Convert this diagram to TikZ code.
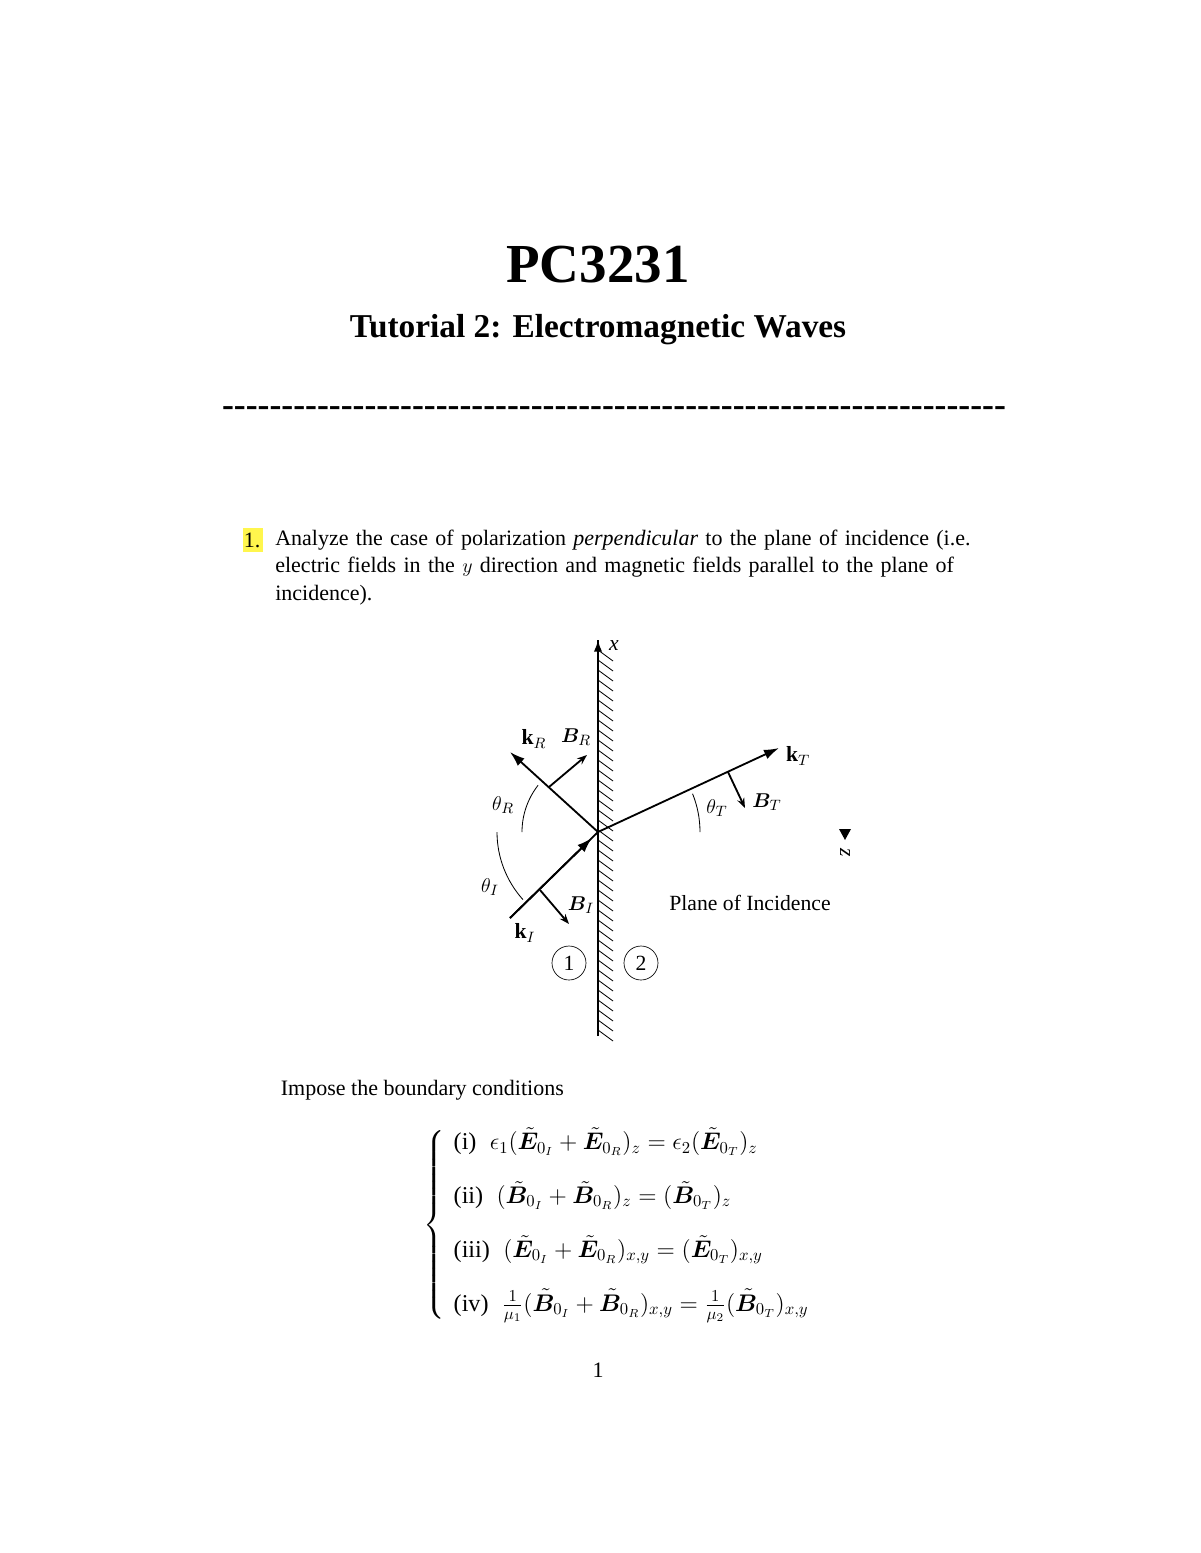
\documentclass[tikz,border=0pt]{standalone}
\usepackage{fontspec}
\setmainfont{Liberation Serif}
\newfontfamily\dashfont{Liberation Serif}[Ligatures=TeXOff]
\usepackage{amsmath,amssymb,bm}
\usetikzlibrary{arrows.meta,patterns,calc}
\begin{document}
\begin{tikzpicture}[x=0.6pt,y=-0.6pt,
  vec/.style={line width=1.1pt,-{Latex[length=9pt,width=6pt]}},
  bvec/.style={line width=1.1pt,-{Stealth[length=6pt,width=4.5pt]}},
  arc/.style={line width=0.5pt},
  lab/.style={font=\fontsize{13}{15}\selectfont},
  body/.style={font=\fontsize{13.2}{16.3}\selectfont}]
\useasboundingbox (0,0) rectangle (1200,1553);
\node (title) at (598,265) {\fontsize{33}{36}\selectfont\bfseries PC3231};
\node (sub) at (598,330) {\fontsize{20}{24}\selectfont\bfseries Tutorial 2: Electromagnetic Waves};
\node (dash) at (614,412) {\dashfont\fontsize{21.4}{24}\selectfont\bfseries ------------------------------------------------------------------};
\fill[yellow!70] (243,528) rectangle (263,552);
\node[body,anchor=north west] (num) at (238,527) {1.};
\node[body,anchor=north west,text width=425pt,align=left,inner sep=0pt] (q) at (275,530)
 {Analyze the case of polarization \emph{perpendicular} to the plane of incidence (i.e. electric fields in the $y$ direction and magnetic fields parallel to the plane of incidence).};
% wall
\coordinate (O) at (598,832);
\coordinate (top) at (598,640);
\coordinate (bot) at (598,1036);
\draw[line width=1pt] (bot) -- (top);
\draw[-{Latex[length=7pt,width=5pt]},line width=1pt] (598,660) -- (top);
\foreach \y in {650,660,...,1030} \draw[line width=0.5pt] (598,\y) -- (613,\y+11);
\node[lab,font=\fontsize{13}{15}\selectfont\itshape] (xl) at (614,646) {x};
% vectors
\coordinate (kIt) at (510,918);
\coordinate (kRt) at (510,752);
\coordinate (kTt) at (779,748);
\draw[vec] (kIt) -- ($(O)!0.07!(kIt)$);
\draw[line width=1.1pt] (kIt) -- (O);
\draw[vec] (O) -- (kRt);
\draw[vec] (O) -- (kTt);
\coordinate (bI1) at (540,890); \coordinate (bI2) at (569,924);
\coordinate (bR1) at (549,787); \coordinate (bR2) at (587,755);
\coordinate (bT1) at (728,772); \coordinate (bT2) at (745,808);
\draw[bvec] (bI1) -- (bI2);
\draw[bvec] (bR1) -- (bR2);
\draw[bvec] (bT1) -- (bT2);
% arcs
\draw[arc] ($(O)+(-76,0)$) arc[start angle=180,end angle=218,radius=76];
\draw[arc] ($(O)+(-101,0)$) arc[start angle=180,end angle=138,radius=101];
\draw[arc] ($(O)+(102,0)$) arc[start angle=0,end angle=-22,radius=102];
% labels
\node[lab] (kR) at (534,739) {$\mathbf{k}_R$};
\node[lab] (BR) at (576,737) {$\bm{B}_R$};
\node[lab] (thR) at (503,805) {$\theta_R$};
\node[lab] (thI) at (490,887) {$\theta_I$};
\node[lab] (BI) at (581,905) {$\bm{B}_I$};
\node[lab] (kI) at (525,933) {$\mathbf{k}_I$};
\node[lab] (kT) at (798,756) {$\mathbf{k}_T$};
\node[lab] (BT) at (767,802) {$\bm{B}_T$};
\node[lab] (thT) at (717,808) {$\theta_T$};
\node[lab,draw,circle,inner sep=1pt,minimum size=34*0.6pt] (c1) at (569,963) {1};
\node[lab,draw,circle,inner sep=1pt,minimum size=34*0.6pt] (c2) at (641,963) {2};
\node[lab] (poi) at (750,903) {Plane of Incidence};
\node[lab,rotate=-90,font=\fontsize{13}{15}\selectfont\itshape] (zl) at (845,853) {z};
\fill (839,829) -- (851,829) -- (845,840) -- cycle;
% text below
\node[body,anchor=west] (imp) at (275,1090) {Impose the boundary conditions};
\node[anchor=west,font=\fontsize{14.5}{17}\selectfont] (eqs) at (418,1225) {$\left\{\begin{array}{l}
\text{(i)}\;\; \epsilon_1(\tilde{\bm E}_{0_I}+\tilde{\bm E}_{0_R})_z=\epsilon_2(\tilde{\bm E}_{0_T})_z\\[14pt]
\text{(ii)}\;\; (\tilde{\bm B}_{0_I}+\tilde{\bm B}_{0_R})_z=(\tilde{\bm B}_{0_T})_z\\[14pt]
\text{(iii)}\;\; (\tilde{\bm E}_{0_I}+\tilde{\bm E}_{0_R})_{x,y}=(\tilde{\bm E}_{0_T})_{x,y}\\[14pt]
\text{(iv)}\;\; \frac{1}{\mu_1}(\tilde{\bm B}_{0_I}+\tilde{\bm B}_{0_R})_{x,y}=\frac{1}{\mu_2}(\tilde{\bm B}_{0_T})_{x,y}
\end{array}\right.$};
\node[body] (pg) at (598,1370) {1};
\end{tikzpicture}
\end{document}
